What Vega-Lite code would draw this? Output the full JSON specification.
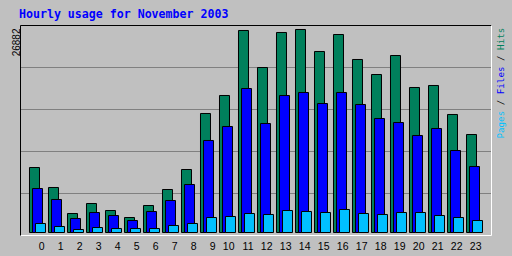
{
  "$schema": "https://vega.github.io/schema/vega-lite/v6.json",
  "autosize": "none",
  "width": 471,
  "height": 210,
  "padding": {"left": 20, "top": 25, "right": 21, "bottom": 21},
  "background": "#c0c0c0",
  "config": {"view": {"stroke": null}},
  "title": {
    "text": "Hourly usage for November 2003",
    "anchor": "start",
    "frame": "group",
    "font": "DejaVu Sans Mono",
    "fontWeight": "bold",
    "fontSize": 11.6,
    "color": "#0000ff",
    "baseline": "alphabetic",
    "offset": 6.5,
    "dx": -1,
    "dy": 11.5
  },
  "data": {
    "values": [
      {"hour": 0, "hits": 8607, "files": 5826, "pages": 1192},
      {"hour": 1, "hits": 5959, "files": 4370, "pages": 795},
      {"hour": 2, "hits": 2516, "files": 1854, "pages": 397},
      {"hour": 3, "hits": 3840, "files": 2648, "pages": 662},
      {"hour": 4, "hits": 2913, "files": 2251, "pages": 530},
      {"hour": 5, "hits": 1986, "files": 1589, "pages": 530},
      {"hour": 6, "hits": 3575, "files": 2781, "pages": 530},
      {"hour": 7, "hits": 5694, "files": 4237, "pages": 927},
      {"hour": 8, "hits": 8342, "files": 6356, "pages": 1192},
      {"hour": 9, "hits": 15758, "files": 12183, "pages": 1986},
      {"hour": 10, "hits": 18142, "files": 14037, "pages": 2119},
      {"hour": 11, "hits": 26749, "files": 19068, "pages": 2516},
      {"hour": 12, "hits": 21849, "files": 14434, "pages": 2384},
      {"hour": 13, "hits": 26484, "files": 18142, "pages": 2913},
      {"hour": 14, "hits": 26882, "files": 18539, "pages": 2781},
      {"hour": 15, "hits": 23968, "files": 17082, "pages": 2648},
      {"hour": 16, "hits": 26219, "files": 18539, "pages": 3046},
      {"hour": 17, "hits": 22909, "files": 16950, "pages": 2516},
      {"hour": 18, "hits": 20922, "files": 15096, "pages": 2384},
      {"hour": 19, "hits": 23438, "files": 14566, "pages": 2648},
      {"hour": 20, "hits": 19201, "files": 12845, "pages": 2648},
      {"hour": 21, "hits": 19466, "files": 13772, "pages": 2251},
      {"hour": 22, "hits": 15626, "files": 10858, "pages": 1986},
      {"hour": 23, "hits": 12977, "files": 8740, "pages": 1589}
    ]
  },
  "resolve": {"axis": {"x": "independent", "y": "independent"}},
  "layer": [
    {
      "mark": {"type": "bar", "fill": "#00805c", "stroke": "#000000", "strokeWidth": 1, "width": 10, "xOffset": -3},
      "encoding": {
        "x": {
          "field": "hour", "type": "ordinal",
          "scale": {"paddingInner": 0, "paddingOuter": 0.3947, "align": 0.5333},
          "axis": {
            "orient": "bottom", "title": null, "labelAngle": 0,
            "labelFont": "Liberation Sans", "labelFontSize": 10.5, "labelColor": "#000000",
            "labelAlign": "right", "labelBaseline": "alphabetic", "labelOffset": 7, "labelPadding": 14,
            "ticks": false, "tickSize": 0, "grid": false,
            "domain": true, "domainColor": "#ffffff", "domainWidth": 1
          }
        },
        "y": {
          "field": "hits", "type": "quantitative",
          "scale": {"domain": [-331, 27477], "nice": false, "zero": false},
          "axis": {
            "orient": "left", "title": "26882",
            "titleFont": "Liberation Sans", "titleFontSize": 10, "titleFontWeight": "normal", "titleColor": "#000000",
            "titleAngle": 270, "titleAlign": "right", "titleBaseline": "alphabetic", "titleX": -1, "titleY": 3,
            "labels": false, "ticks": false, "tickSize": 0,
            "grid": true, "gridColor": "#808080", "gridWidth": 1, "gridOpacity": 1,
            "values": [5231, 10792, 16354, 21916],
            "domain": true, "domainColor": "#000000", "domainWidth": 1
          }
        }
      }
    },
    {
      "mark": {"type": "bar", "fill": "#0000ff", "stroke": "#000000", "strokeWidth": 1, "width": 10, "xOffset": 0},
      "encoding": {
        "x": {
          "field": "hour", "type": "ordinal",
          "axis": {
            "orient": "top", "labels": false, "ticks": false, "grid": false,
            "domain": true, "domainColor": "#000000", "domainWidth": 1,
            "title": "Files",
            "titleFont": "DejaVu Sans Mono", "titleFontSize": 9.2, "titleFontWeight": "normal", "titleColor": "#0000ff",
            "titleAngle": 270, "titleAlign": "left", "titleBaseline": "alphabetic", "titleX": 483, "titleY": 68.7
          }
        },
        "y": {
          "field": "files", "type": "quantitative",
          "axis": {
            "orient": "right", "labels": false, "ticks": false, "grid": false,
            "domain": true, "domainColor": "#ffffff", "domainWidth": 1,
            "title": "Hits",
            "titleFont": "DejaVu Sans Mono", "titleFontSize": 9.2, "titleFontWeight": "normal", "titleColor": "#00805c",
            "titleAngle": 270, "titleAlign": "left", "titleBaseline": "alphabetic", "titleX": 12, "titleY": 24.4
          }
        }
      }
    },
    {
      "mark": {"type": "bar", "fill": "#00c0ff", "stroke": "#000000", "strokeWidth": 1, "width": 10, "xOffset": 3},
      "encoding": {
        "x": {
          "field": "hour", "type": "ordinal",
          "axis": {
            "orient": "top", "labels": false, "ticks": false, "grid": false, "domain": false,
            "title": "/\u00a0\u00a0\u00a0\u00a0\u00a0\u00a0\u00a0/",
            "titleFont": "DejaVu Sans Mono", "titleFontSize": 9.2, "titleFontWeight": "normal", "titleColor": "#000000",
            "titleAngle": 270, "titleAlign": "left", "titleBaseline": "alphabetic", "titleX": 483, "titleY": 79.8
          }
        },
        "y": {
          "field": "pages", "type": "quantitative",
          "axis": {
            "orient": "right", "labels": false, "ticks": false, "grid": false, "domain": false,
            "title": "Pages",
            "titleFont": "DejaVu Sans Mono", "titleFontSize": 9.2, "titleFontWeight": "normal", "titleColor": "#00c0ff",
            "titleAngle": 270, "titleAlign": "left", "titleBaseline": "alphabetic", "titleX": 12, "titleY": 113
          }
        }
      }
    }
  ]
}
